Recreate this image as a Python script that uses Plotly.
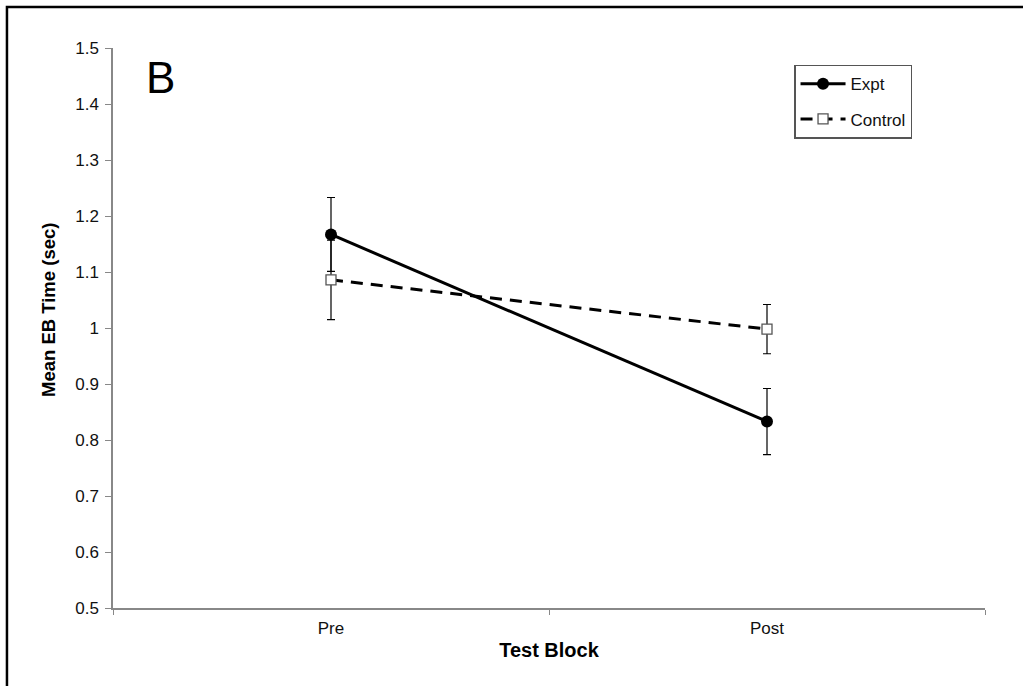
import plotly.graph_objects as go

blocks = ["Pre", "Post"]
expt_mean = [1.167, 0.833]
expt_err = [0.066, 0.059]
control_mean = [1.086, 0.998]
control_err = [0.071, 0.044]
y_ticks = [0.5, 0.6, 0.7, 0.8, 0.9, 1.0, 1.1, 1.2, 1.3, 1.4, 1.5]
y_tick_text = ["0.5", "0.6", "0.7", "0.8", "0.9", "1", "1.1", "1.2", "1.3", "1.4", "1.5"]

FONT = "Liberation Sans, Arial, sans-serif"

fig = go.Figure()
fig.add_trace(go.Scatter(
    x=blocks, y=control_mean, name="Control", mode="lines+markers", legendgroup="c",
    legendrank=2,
    line=dict(color="black", width=3, dash="12px,8px"),
    marker=dict(symbol="square", size=10, color="white",
                line=dict(color="#555555", width=1.3)),
    error_y=dict(type="data", array=control_err, color="black", thickness=1.2, width=4),
))
fig.add_trace(go.Scatter(
    x=blocks, y=expt_mean, name="Expt", mode="lines+markers", legendgroup="e",
    legendrank=1,
    line=dict(color="black", width=3),
    marker=dict(symbol="circle", size=12, color="black"),
    error_y=dict(type="data", array=expt_err, color="black", thickness=1.2, width=4),
))

fig.update_layout(
    width=1023, height=686,
    margin=dict(l=113, r=38, t=48, b=78),
    paper_bgcolor="white", plot_bgcolor="white",
    font=dict(family=FONT, size=17, color="#111111"),
    showlegend=True,
    legend=dict(
        x=0.781, y=0.970, xanchor="left", yanchor="top",
        bordercolor="#555555", borderwidth=1.5, bgcolor="white",
        font=dict(size=17, color="#111111"), traceorder="grouped",
        itemwidth=45, tracegroupgap=10,
    ),
    xaxis=dict(
        type="category", range=[-0.5, 1.5], showline=True, linecolor="#888888",
        linewidth=1.5, ticks="outside", tickson="boundaries", ticklen=5,
        tickcolor="#888888", showgrid=False, zeroline=False,
        tickfont=dict(size=17), ticklabelstandoff=4,
        title=dict(text="<b>Test Block</b>", font=dict(size=20, color="black"), standoff=6),
    ),
    yaxis=dict(
        range=[0.5, 1.5], tickvals=y_ticks, ticktext=y_tick_text,
        showline=True, linecolor="#888888", linewidth=1.5, ticks="outside",
        ticklen=6, tickcolor="#888888", showgrid=False, zeroline=False,
        tickfont=dict(size=17), ticklabelstandoff=3,
    ),
    annotations=[
        dict(
            text="B", xref="paper", yref="paper", x=0.035, y=0.995,
            xanchor="left", yanchor="top", showarrow=False,
            font=dict(size=44, color="black", family=FONT),
        ),
        dict(
            text="<b>Mean EB Time (sec)</b>", xref="paper", yref="paper",
            x=(48 - 113) / 872, y=(608 - 310) / 560, xanchor="center", yanchor="middle",
            textangle=-90, showarrow=False,
            font=dict(size=18.5, color="black", family=FONT),
        ),
    ],
    shapes=[dict(
        type="rect", xref="paper", yref="paper",
        x0=-0.1216, x1=1.1, y0=-0.25, y1=1.0733,
        line=dict(color="black", width=2.5),
    )],
)

fig.write_html("out.html")
